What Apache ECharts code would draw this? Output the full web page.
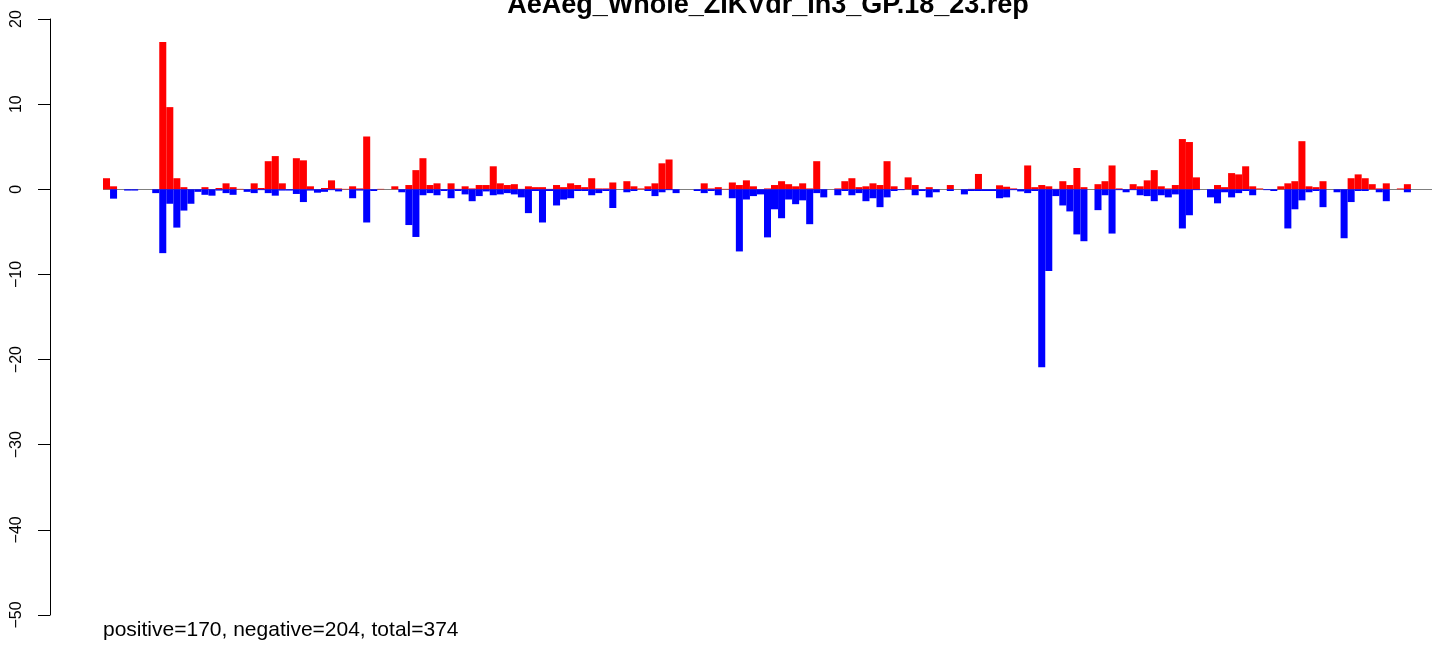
<!DOCTYPE html>
<html>
<head>
<meta charset="utf-8">
<script src="https://cdn.jsdelivr.net/npm/echarts@6/dist/echarts.min.js"></script>
<style>
  html, body { margin: 0; padding: 0; background: #fff; }
  #main { width: 1444px; height: 650px; }
</style>
</head>
<body>
<div id="main"></div>
<script>
// title + footer
const chartTitle = 'AeAeg_Whole_ZIKVdr_In3_GP.18_23.rep';
const footerText = 'positive=170, negative=204, total=374';

// y ticks
const yMin = -50;
const yMax = 20;
const yStep = 10;

// positive (red) values per bin
const posValues = [
  1.3, 0.35, 0, 0, 0, 0, 0, 0, 17.3, 9.65,
  1.3, 0.25, 0, 0, 0.25, 0, 0.15, 0.7, 0.25, 0.05,
  0, 0.7, 0.15, 3.3, 3.9, 0.7, 0, 3.65, 3.4, 0.35,
  0, 0.15, 1.05, 0.1, 0.05, 0.35, 0.1, 6.2, 0, 0.05,
  0, 0.35, 0, 0.5, 2.25, 3.65, 0.5, 0.7, 0, 0.7,
  0.05, 0.35, 0.1, 0.5, 0.5, 2.7, 0.7, 0.5, 0.6, 0.05,
  0.35, 0.25, 0.25, 0.05, 0.5, 0.25, 0.7, 0.5, 0.25, 1.3,
  0.1, 0.1, 0.8, 0, 0.95, 0.35, 0.1, 0.35, 0.7, 3.05,
  3.5, 0, 0, 0, 0, 0.7, 0.1, 0.25, 0.05, 0.8,
  0.5, 1.05, 0.35, 0, 0.1, 0.5, 0.95, 0.6, 0.35, 0.7,
  0.1, 3.3, 0, 0, 0.1, 0.95, 1.3, 0.25, 0.35, 0.7,
  0.5, 3.3, 0.35, 0, 1.4, 0.5, 0, 0.25, 0, 0,
  0.5, 0, 0, 0.05, 1.8, 0, 0, 0.47, 0.3, 0.1,
  0, 2.8, 0.25, 0.5, 0.35, 0.05, 0.95, 0.5, 2.5, 0.25,
  0, 0.6, 0.95, 2.8, 0.1, 0, 0.6, 0.35, 1.05, 2.25,
  0.35, 0.1, 0.5, 5.9, 5.55, 1.4, 0, 0, 0.5, 0.25,
  1.9, 1.75, 2.7, 0.35, 0.1, 0, 0, 0.35, 0.7, 0.95,
  5.65, 0.35, 0.25, 0.95, 0, 0, 0, 1.3, 1.75, 1.3,
  0.6, 0.1, 0.7, 0, 0.1, 0.6, 0, 0, 0
];

// negative (blue) values per bin
const negValues = [
  0, -1.1, 0, -0.15, -0.15, 0, 0, -0.45, -7.5, -1.7,
  -4.5, -2.5, -1.7, -0.3, -0.65, -0.75, -0.15, -0.45, -0.65, 0,
  -0.3, -0.45, -0.1, -0.45, -0.75, -0.15, -0.15, -0.55, -1.5, -0.15,
  -0.4, -0.3, -0.1, -0.25, 0, -1.05, -0.15, -3.9, -0.2, 0,
  0, 0, -0.35, -4.2, -5.6, -0.7, -0.45, -0.7, -0.2, -1.05,
  -0.2, -0.6, -1.4, -0.8, -0.25, -0.7, -0.6, -0.45, -0.6, -0.95,
  -2.8, -0.2, -3.9, -0.2, -1.9, -1.2, -1.05, -0.2, -0.2, -0.7,
  -0.45, -0.2, -2.2, 0, -0.35, -0.2, 0, -0.2, -0.8, -0.35,
  -0.1, -0.45, 0, 0, -0.2, -0.45, -0.2, -0.7, 0, -1.05,
  -7.3, -1.2, -0.8, -0.6, -5.65, -2.35, -3.4, -1.2, -1.75, -1.3,
  -4.1, -0.45, -0.95, 0, -0.7, -0.2, -0.7, -0.45, -1.4, -1.05,
  -2.1, -0.95, -0.2, -0.1, 0, -0.7, -0.2, -0.95, -0.35, 0,
  -0.2, 0, -0.6, -0.2, -0.2, -0.2, -0.2, -1.05, -0.95, -0.1,
  -0.25, -0.45, -0.2, -20.9, -9.6, -0.8, -1.9, -2.6, -5.3, -6.1,
  0, -2.45, -0.7, -5.2, -0.1, -0.35, -0.1, -0.7, -0.8, -1.4,
  -0.7, -0.95, -0.6, -4.6, -3.05, -0.1, 0, -0.95, -1.65, -0.35,
  -0.95, -0.45, -0.2, -0.7, 0, -0.1, -0.2, 0, -4.6, -2.35,
  -1.3, -0.35, -0.2, -2.1, 0, -0.35, -5.75, -1.5, -0.2, -0.2,
  0, -0.35, -1.4, 0, 0, -0.35, 0, 0, 0
];

// bin labels
const bins = posValues.map((v, i) => String(i + 1));

const chart = echarts.init(document.getElementById('main'), null, { renderer: 'canvas' });

const fontFamily = '"Liberation Sans", Arial, Helvetica, sans-serif';

// only the 0 line shows, like abline(h=0)
const splitColors = [];
for (let v = yMin; v <= yMax; v += yStep) {
  splitColors.push(v === 0 ? '#7f7f7f' : 'rgba(0,0,0,0)');
}

const option = {
  backgroundColor: '#ffffff',
  animation: false,
  grid: {
    left: 103,
    right: 12,
    top: 19,
    bottom: 35,
    containLabel: false
  },
  xAxis: {
    type: 'category',
    data: bins,
    boundaryGap: true,
    show: false
  },
  yAxis: {
    type: 'value',
    min: yMin,
    max: yMax,
    interval: yStep,
    offset: 53,
    axisLine: { show: true, lineStyle: { color: '#000', width: 1 } },
    axisTick: { show: true, length: 12, lineStyle: { color: '#000', width: 1 } },
    axisLabel: {
      rotate: 90,
      margin: 25,
      color: '#000',
      fontSize: 16,
      fontFamily: fontFamily,
      formatter: function (v) { return String(v).replace('-', '\u2212'); }
    },
    splitLine: { show: true, lineStyle: { color: splitColors, width: 1 } }
  },
  series: [
    {
      name: 'positive',
      type: 'bar',
      data: posValues,
      barWidth: '100%',
      barGap: '-100%',
      itemStyle: { color: '#ff0000' },
      z: 3
    },
    {
      name: 'negative',
      type: 'bar',
      data: negValues,
      barWidth: '100%',
      barGap: '-100%',
      itemStyle: { color: '#0000ff' },
      z: 3
    }
  ],
  graphic: [
    {
      type: 'text',
      x: 768,
      y: 6,
      style: {
        text: chartTitle,
        fill: '#000',
        font: 'bold 27px ' + fontFamily,
        textAlign: 'center',
        textVerticalAlign: 'middle'
      }
    },
    {
      type: 'text',
      x: 103,
      y: 630,
      style: {
        text: footerText,
        fill: '#000',
        font: '21px ' + fontFamily,
        textAlign: 'left',
        textVerticalAlign: 'middle'
      }
    }
  ]
};

chart.setOption(option);
</script>
</body>
</html>
